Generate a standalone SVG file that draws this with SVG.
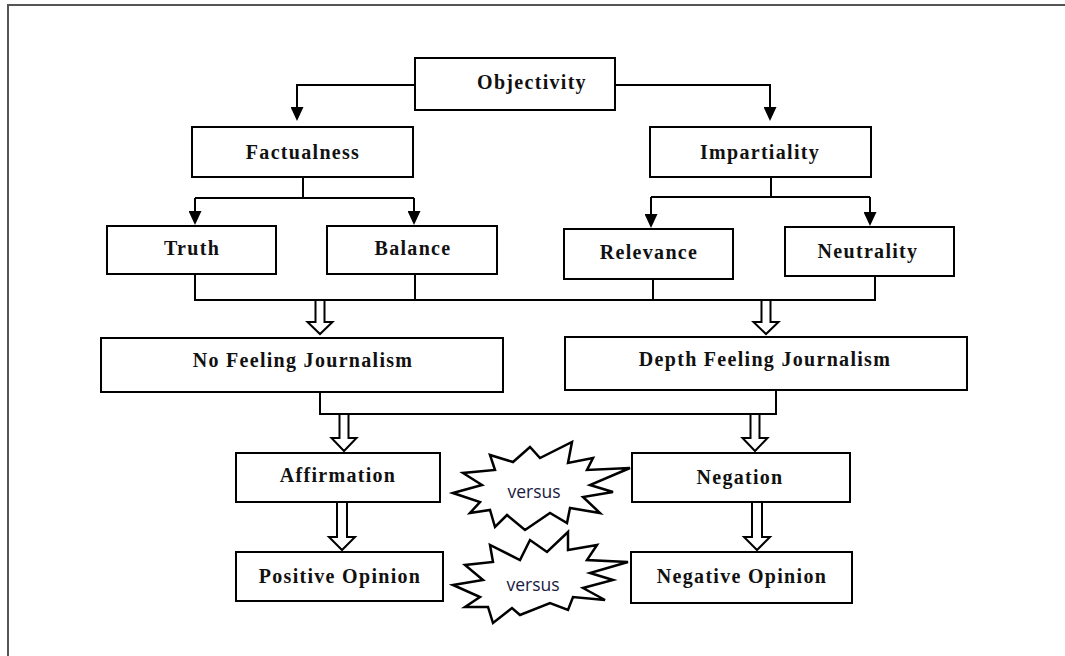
<svg xmlns="http://www.w3.org/2000/svg" width="1065" height="656" viewBox="0 0 1065 656">
<style>
.box{fill:#fff;stroke:#000;stroke-width:2}
.lbl{font-family:"Liberation Serif","Times New Roman",serif;font-weight:bold;font-size:20px;letter-spacing:1.3px;fill:#111;text-anchor:middle}
.con{fill:none;stroke:#000;stroke-width:2}
.hol{fill:#fff;stroke:#000;stroke-width:2;stroke-linejoin:miter}
.star{fill:#fff;stroke:#000;stroke-width:2.5;stroke-linejoin:miter}
.vs{font-family:"Open Sans","Liberation Sans",sans-serif;font-size:17.5px;fill:#1a1a40;text-anchor:middle}
</style>
<defs>
<marker id="ah" viewBox="0 0 14 13" refX="8" refY="6.5" markerWidth="14" markerHeight="13" markerUnits="userSpaceOnUse" orient="auto"><path d="M0,0 L14,6.5 L0,13 z" fill="#000"/></marker>
</defs>
<rect x="0" y="0" width="1065" height="656" fill="#fff"/>
<rect x="8" y="5" width="1100" height="700" fill="none" stroke="#555" stroke-width="2"/>

<g id="connectors">
<path class="con" d="M415,85 H297 V115" marker-end="url(#ah)"/>
<path class="con" d="M615,85 H770 V115" marker-end="url(#ah)"/>
<path class="con" d="M303,177 V198 M195,198 H414"/>
<path class="con" d="M195,198 V219" marker-end="url(#ah)"/>
<path class="con" d="M414,198 V219" marker-end="url(#ah)"/>
<path class="con" d="M771,177 V197 M651,197 H870"/>
<path class="con" d="M651,197 V222" marker-end="url(#ah)"/>
<path class="con" d="M870,197 V220" marker-end="url(#ah)"/>
<path class="con" d="M195,274 V300 H875 V276 M415,274 V300 M653,279 V300"/>
<path class="con" d="M320,392 V414 H776 V390"/>
<polygon class="hol" points="315.5,300 324.5,300 324.5,322 332.5,322 320,334 307.5,322 315.5,322"/>
<polygon class="hol" points="761.5,300 770.5,300 770.5,322 778.5,322 766,334 753.5,322 761.5,322"/>
<polygon class="hol" points="339.5,414 348.5,414 348.5,438 356.5,438 344,451 331.5,438 339.5,438"/>
<polygon class="hol" points="750.5,414 759.5,414 759.5,438 767.5,438 755,451 742.5,438 750.5,438"/>
<polygon class="hol" points="337,502 347,502 347,537 355,537 342,550 329,537 337,537"/>
<polygon class="hol" points="752,502 762,502 762,537 770,537 757,550 744,537 752,537"/>
</g>

<g id="objectivity"><rect class="box" x="415" y="58" width="200" height="52"/><text class="lbl" x="532" y="89">Objectivity</text></g>
<g id="factualness"><rect class="box" x="192" y="127" width="221" height="50"/><text class="lbl" x="303" y="159">Factualness</text></g>
<g id="impartiality"><rect class="box" x="650" y="127" width="221" height="50"/><text class="lbl" x="760" y="159">Impartiality</text></g>
<g id="truth"><rect class="box" x="107" y="226" width="169" height="48"/><text class="lbl" x="192" y="255">Truth</text></g>
<g id="balance"><rect class="box" x="327" y="226" width="170" height="48"/><text class="lbl" x="413" y="255">Balance</text></g>
<g id="relevance"><rect class="box" x="564" y="229" width="169" height="50"/><text class="lbl" x="649" y="259">Relevance</text></g>
<g id="neutrality"><rect class="box" x="785" y="227" width="169" height="49"/><text class="lbl" x="868" y="258">Neutrality</text></g>
<g id="no-feeling"><rect class="box" x="101" y="338" width="402" height="54"/><text class="lbl" x="303" y="367">No Feeling Journalism</text></g>
<g id="depth-feeling"><rect class="box" x="565" y="337" width="402" height="53"/><text class="lbl" x="765" y="366">Depth Feeling Journalism</text></g>
<g id="affirmation"><rect class="box" x="236" y="453" width="204" height="49"/><text class="lbl" x="338" y="482">Affirmation</text></g>
<g id="negation"><rect class="box" x="632" y="453" width="218" height="49"/><text class="lbl" x="740" y="484">Negation</text></g>
<g id="positive"><rect class="box" x="236" y="552" width="207" height="49"/><text class="lbl" x="340" y="583">Positive Opinion</text></g>
<g id="negative"><rect class="box" x="631" y="552" width="221" height="51"/><text class="lbl" x="742" y="583">Negative Opinion</text></g>

<g id="versus1">
<polygon class="star" points="453,493 482,485 463,473 495,470 490,455 513,462 530,447 540,458 572,442 568,463 593,458 587,470 630,468 590,485 613,492 583,497 600,513 570,508 567,523 550,513 525,530 507,515 495,527 490,510 470,513 480,502"/>
<text class="vs" x="534" y="498">versus</text>
</g>
<g id="versus2">
<polygon class="star" points="453,585 483,580 465,565 493,562 490,545 520,560 530,540 547,552 568,532 568,550 597,545 587,560 628,562 590,573 613,580 583,588 605,600 573,597 568,610 550,603 520,615 512,608 493,623 488,607 465,607 480,597"/>
<text class="vs" x="533" y="591">versus</text>
</g>
</svg>
